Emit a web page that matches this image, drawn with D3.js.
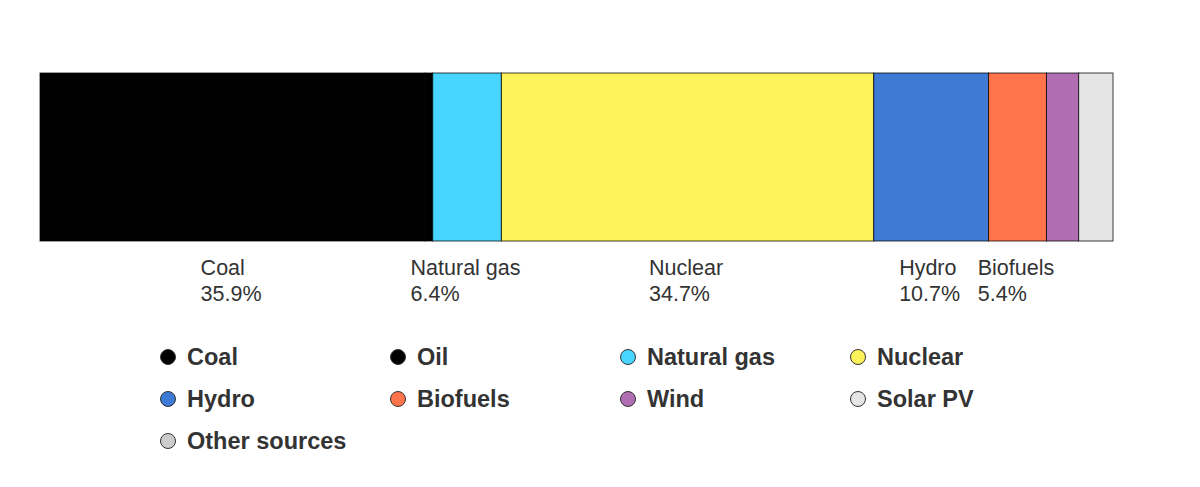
<!DOCTYPE html>
<html><head><meta charset="utf-8">
<script src="https://cdn.jsdelivr.net/npm/d3@7"></script>
<style>body{margin:0;background:#fff}svg{display:block;font-family:"Liberation Sans",Arial,sans-serif}</style>
</head><body><svg id="c" width="1200" height="487"></svg>
<script>
const categories = ["Coal","Oil","Natural gas","Nuclear","Hydro","Biofuels","Wind","Solar PV","Other sources"];
const shares = [35.9, 0.7, 6.4, 34.7, 10.7, 5.4, 3.0, 3.2, 0.0];
const colors = ["#000000","#000000","#48D5FF","#FEF25A","#3E7BD4","#FF744A","#B06DB2","#E5E5E5","#CCCCCC"];
const labelThreshold = 5;

const svg = d3.select("#c");
const data = categories.map((c,i)=>({name:c, value:shares[i], color:colors[i]}));
let acc = 0;
data.forEach(d=>{d.x0 = acc; acc += d.value; d.x1 = acc;});

const x = d3.scaleLinear().domain([0, acc]).range([40, 1113]);
const barTop = 73, barH = 168;

svg.append("g").selectAll("rect").data(data.filter(d=>d.value>0)).join("rect")
  .attr("x", d=>x(d.x0)).attr("y", barTop)
  .attr("width", d=>x(d.x1)-x(d.x0)).attr("height", barH)
  .attr("fill", d=>d.color).attr("stroke", "#000").attr("stroke-opacity", 0.75).attr("stroke-width", 1);

const lg = svg.append("g");
data.filter(d=>d.value>=labelThreshold).forEach(d=>{
  const cx = (x(d.x0)+x(d.x1))/2;
  const t = lg.append("text").attr("fill","#333").style("font-size","21.5px");
  const l1 = t.append("tspan").attr("y", 275).text(d.name);
  const l2 = t.append("tspan").attr("y", 301).text(d3.format(".1f")(d.value)+"%");
  const w = Math.max(l1.node().getComputedTextLength(), l2.node().getComputedTextLength());
  l1.attr("x", cx - w/2 - 1.5); l2.attr("x", cx - w/2 - 1.5);
});

const leg = svg.append("g");
data.forEach((d,i)=>{
  const col = i%4, row = Math.floor(i/4);
  const gx = 168 + col*230, gy = 357 + row*42;
  leg.append("circle").attr("cx", gx).attr("cy", gy).attr("r", 7.5)
    .attr("fill", d.color).attr("stroke","#333").attr("stroke-width",1);
  leg.append("text").attr("x", gx+19).attr("y", gy+8).attr("fill","#333")
    .style("font-size","23.5px").style("font-weight","bold").text(d.name);
});
</script></body></html>
